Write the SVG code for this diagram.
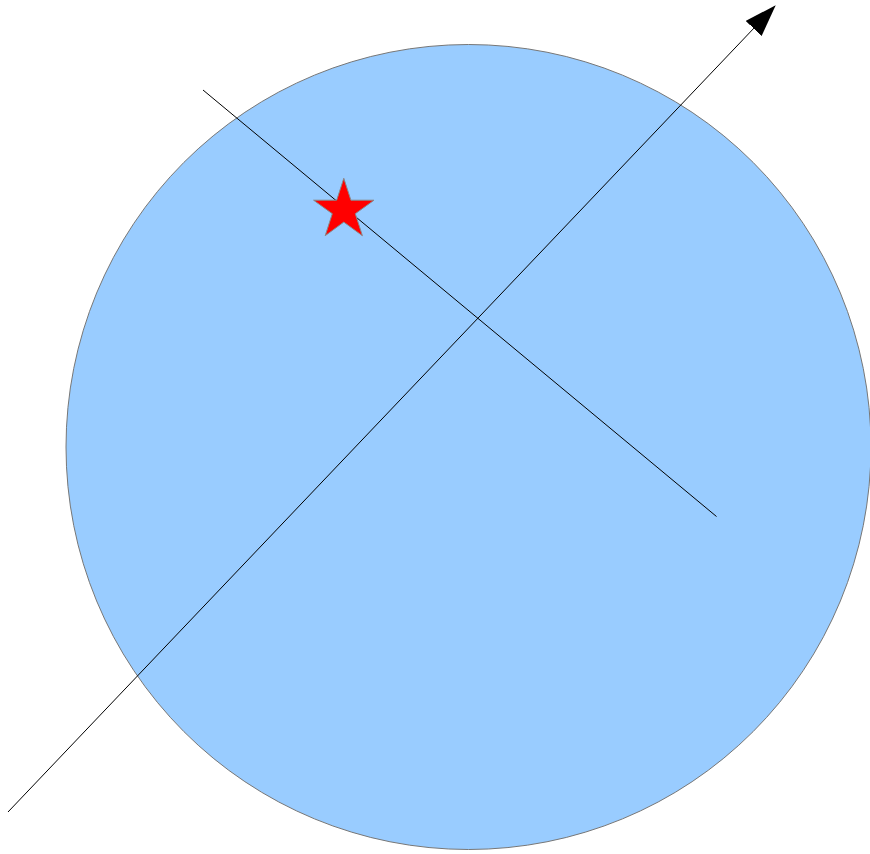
<svg xmlns="http://www.w3.org/2000/svg" width="870" height="854" viewBox="0 0 870 854">
  <style>
    .ball { fill: #99ccff; stroke: #777777; stroke-width: 1; }
    .star { fill: #ff0000; stroke: #888888; stroke-width: 1; }
    .axis { stroke: #000000; stroke-width: 1; fill: none; }
  </style>
  <defs>
    <marker id="arrow" markerUnits="userSpaceOnUse" markerWidth="32" markerHeight="22" refX="31" refY="11" orient="auto" viewBox="0 0 32 22">
      <path d="M0,0 L32,11 L0,22 Z" fill="#000000"/>
    </marker>
  </defs>
  <rect width="870" height="854" fill="#ffffff"/>
  <g id="sphere">
    <circle class="ball" cx="468.5" cy="447" r="402.5"/>
  </g>
  <g id="connectors">
    <line class="axis" x1="8" y1="812" x2="775" y2="6" marker-end="url(#arrow)"/>
    <line class="axis" x1="203" y1="90" x2="716.5" y2="516.5"/>
  </g>
  <g id="star-point">
    <polygon class="star" points="343.8,178.3 350.9,200.2 374,200.2 355.3,213.7 362.4,235.7 343.8,222.1 325.2,235.7 332.3,213.7 313.6,200.2 336.7,200.2"/>
  </g>
</svg>
